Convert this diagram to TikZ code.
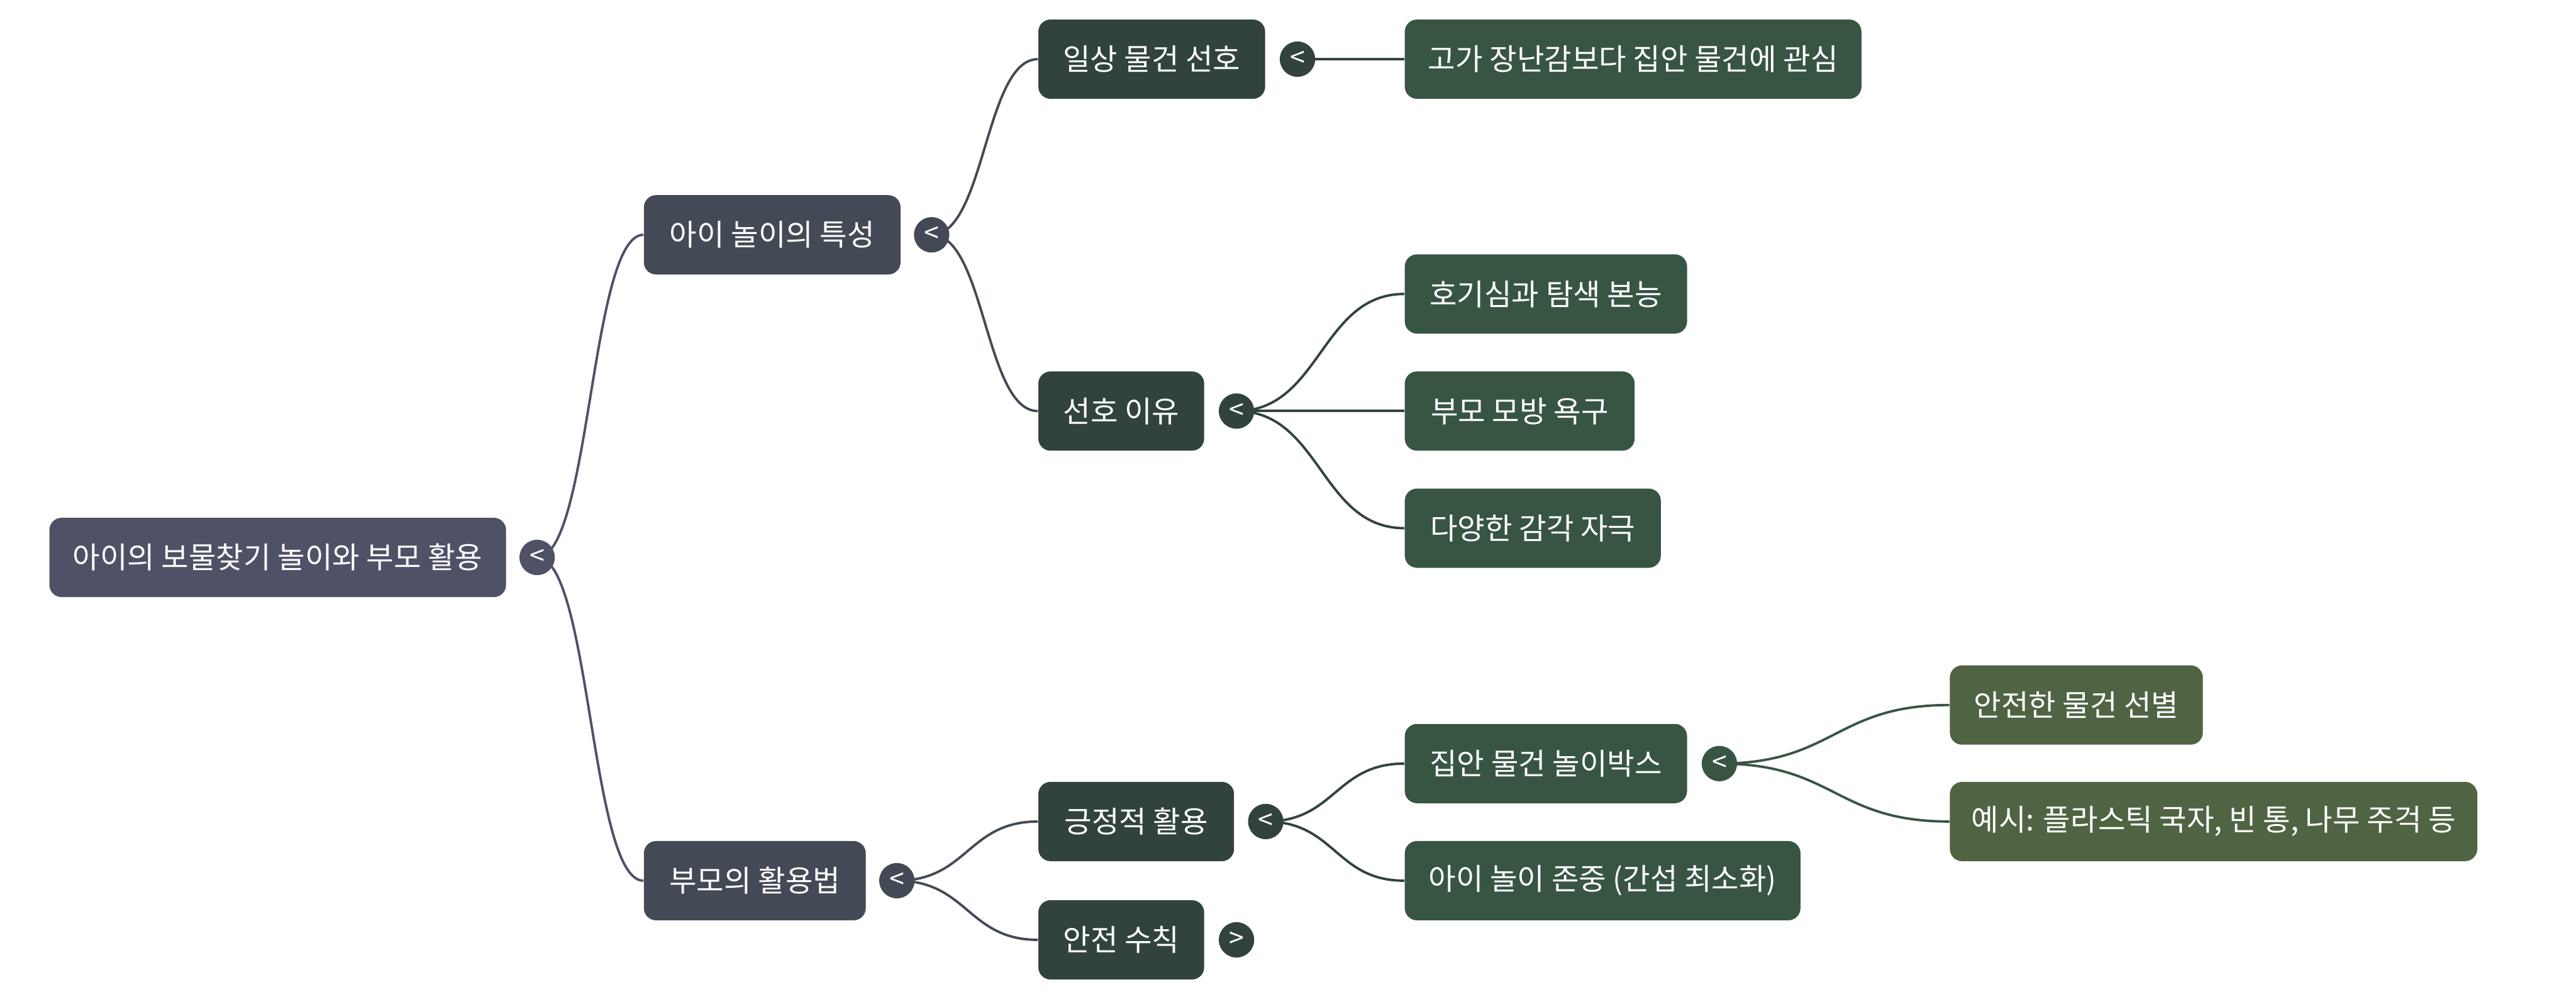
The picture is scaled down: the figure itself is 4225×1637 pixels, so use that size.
\documentclass[tikz,border=0pt]{standalone}
\usepackage{fontspec}
\newfontfamily\kr{Noto Sans CJK KR}
\definecolor{c0}{HTML}{4F5167}
\definecolor{c1}{HTML}{434A55}
\definecolor{c2}{HTML}{32433E}
\definecolor{c3}{HTML}{385544}
\definecolor{c4}{HTML}{506343}
\pgfdeclarelayer{bg}
\pgfsetlayers{bg,main}
\begin{document}
\begin{tikzpicture}[x=0.25pt,y=-0.25pt,
  box/.style={rectangle, rounded corners=5pt, inner sep=0pt, minimum height=32.5pt,
    minimum width=#1*0.25pt, text=white, font=\kr\fontsize{12.2}{14}\selectfont},
  tog/.style={circle, inner sep=0pt, minimum size=14.5pt, text=white,
    font=\kr\fontsize{11}{12}\selectfont},
  edge/.style={line width=1pt}]
\useasboundingbox (0,0) rectangle (4225,1637);
% nodes
\node[box=749, fill=c0] (root) at (455.5,914) {아이의 보물찾기 놀이와 부모 활용};
\node[tog, fill=c0] (troot) at (881,914) {<};
\node[box=421, fill=c1] (a) at (1266.5,385) {아이 놀이의 특성};
\node[tog, fill=c1] (ta) at (1528,385) {<};
\node[box=364, fill=c1] (b) at (1238,1444) {부모의 활용법};
\node[tog, fill=c1] (tb) at (1471,1444) {<};
\node[box=372, fill=c2] (a1) at (1889,97) {일상 물건 선호};
\node[tog, fill=c2] (ta1) at (2128,97) {<};
\node[box=749, fill=c3] (a11) at (2678.5,97) {고가 장난감보다 집안 물건에 관심};
\node[box=272, fill=c2] (a2) at (1839,674) {선호 이유};
\node[tog, fill=c2] (ta2) at (2028,674) {<};
\node[box=463, fill=c3] (a21) at (2535.5,482) {호기심과 탐색 본능};
\node[box=377, fill=c3] (a22) at (2492.5,674) {부모 모방 욕구};
\node[box=420, fill=c3] (a23) at (2514,866) {다양한 감각 자극};
\node[box=321, fill=c2] (b1) at (1863.5,1347) {긍정적 활용};
\node[tog, fill=c2] (tb1) at (2076,1347) {<};
\node[box=272, fill=c2] (b2) at (1839,1541) {안전 수칙};
\node[tog, fill=c2] (tb2) at (2028,1541) {>};
\node[box=463, fill=c3] (b11) at (2535.5,1252) {집안 물건 놀이박스};
\node[tog, fill=c3] (tb11) at (2820,1252) {<};
\node[box=649, fill=c3] (b12) at (2628.5,1444) {아이 놀이 존중 (간섭 최소화)};
\node[box=415, fill=c4] (b111) at (3405.5,1156) {안전한 물건 선별};
\node[box=865, fill=c4] (b112) at (3630.5,1347) {예시: 플라스틱 국자, 빈 통, 나무 주걱 등};
% edges
\begin{pgfonlayer}{bg}
\draw[edge, c0] (troot.center) .. controls (968.5,914) and (968.5,385) .. (a.west);
\draw[edge, c0] (troot.center) .. controls (968.5,914) and (968.5,1444) .. (b.west);
\draw[edge, c1] (ta.center) .. controls (1615.5,385) and (1615.5,97) .. (a1.west);
\draw[edge, c1] (ta.center) .. controls (1615.5,385) and (1615.5,674) .. (a2.west);
\draw[edge, c1] (tb.center) .. controls (1587,1444) and (1587,1347) .. (b1.west);
\draw[edge, c1] (tb.center) .. controls (1587,1444) and (1587,1541) .. (b2.west);
\draw[edge, c2] (ta1.center) -- (a11.west);
\draw[edge, c2] (ta2.center) .. controls (2166,674) and (2166,482) .. (a21.west);
\draw[edge, c2] (ta2.center) -- (a22.west);
\draw[edge, c2] (ta2.center) .. controls (2166,674) and (2166,866) .. (a23.west);
\draw[edge, c2] (tb1.center) .. controls (2190,1347) and (2190,1252) .. (b11.west);
\draw[edge, c2] (tb1.center) .. controls (2190,1347) and (2190,1444) .. (b12.west);
\draw[edge, c3] (tb11.center) .. controls (3009,1252) and (3009,1156) .. (b111.west);
\draw[edge, c3] (tb11.center) .. controls (3009,1252) and (3009,1347) .. (b112.west);
\end{pgfonlayer}
\end{tikzpicture}
\end{document}
